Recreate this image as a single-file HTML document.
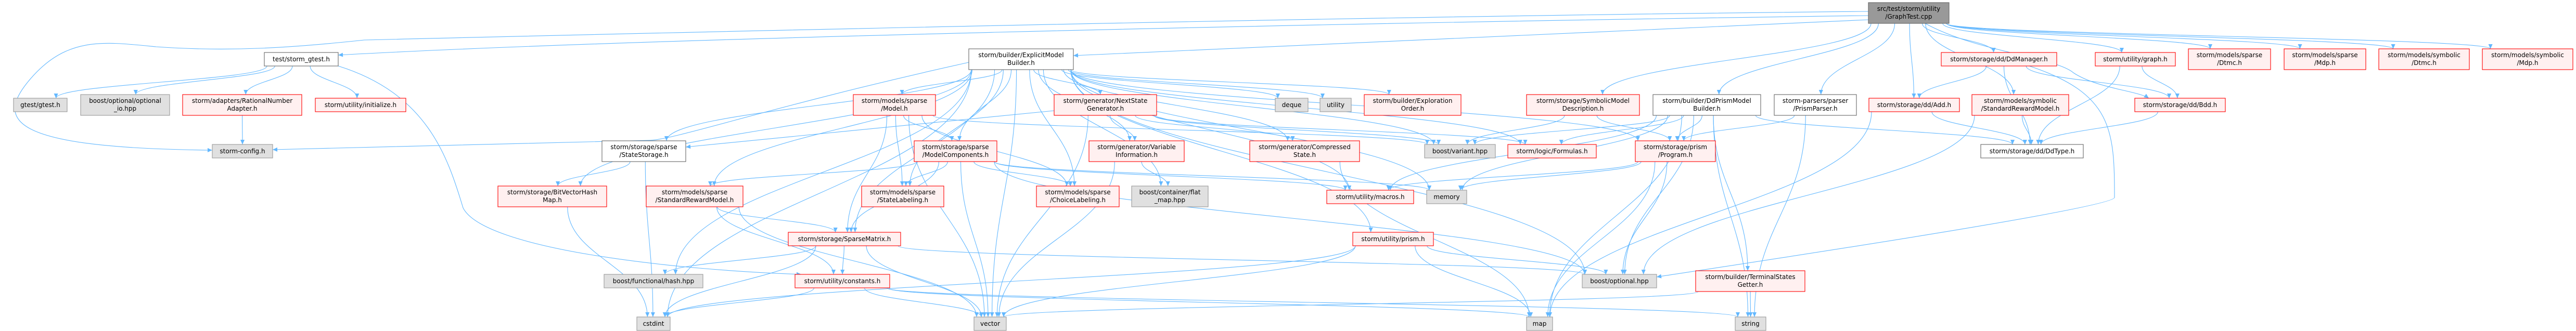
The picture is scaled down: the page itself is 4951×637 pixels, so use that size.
<!DOCTYPE html>
<html><head><meta charset="utf-8"><style>
html,body{margin:0;padding:0;background:#fff;width:4951px;height:637px;overflow:hidden}
svg{display:block}
text{font-family:"DejaVu Sans","Liberation Sans",sans-serif;font-size:12px;fill:#000}
.e{fill:none;stroke:#63b8ff;stroke-width:1.1}
.r{fill:#fff0f0;stroke:#ff0000;stroke-width:1.1}
.g{fill:#e0e0e0;stroke:#999;stroke-width:1.1}
.w{fill:#fff;stroke:#666;stroke-width:1.1}
.d{fill:#999;stroke:#666;stroke-width:1.1}
</style></head><body>
<svg id="s" width="4951" height="637" viewBox="0 0 4951 637" xmlns="http://www.w3.org/2000/svg">
<defs><marker id="a" viewBox="0 0 10 10" refX="10" refY="5" markerWidth="11" markerHeight="9" markerUnits="userSpaceOnUse" orient="auto"><path d="M0,0.5 L10,5 L0,9.5z" fill="#63b8ff"/></marker></defs>
<g id="edges">
<path class="e" marker-end="url(#a)" d="M3591,30 C2500,45 1200,75 650,106"/>
<path class="e" marker-end="url(#a)" d="M3591,22 C2500,32 1000,70 700,77 C560,92 440,100 300,90 C200,80 130,70 60,150 C-10,230 10,285 408,289"/>
<path class="e" marker-end="url(#a)" d="M3591,38 L2063,107"/>
<path class="e" marker-end="url(#a)" d="M2026,213 L1318,283"/>
<path class="e" marker-end="url(#a)" d="M1862,120 C1500,200 1300,268 1250,270 L524,288"/>
<path class="e" marker-end="url(#a)" d="M3900,127 C4060,180 4064,250 4064,380 C4064,400 3400,500 3184,533"/>
<path class="e" marker-end="url(#a)" d="M3700,45 C3800,100 3950,110 3985,140 C4030,170 4110,175 4130,189"/>
<path class="e" marker-end="url(#a)" d="M650,127 C820,180 860,300 890,400 C930,480 1300,520 1540,528"/>
</g>
<g id="nodes">
<rect class="d" x="3591" y="5" width="155" height="40"/><text x="3668.5" y="21" text-anchor="middle">src/test/storm/utility</text><text x="3668.5" y="36" text-anchor="middle">/GraphTest.cpp</text>
<rect class="w" x="508" y="101" width="142" height="26"/><text x="579" y="118" text-anchor="middle">test/storm_gtest.h</text>
<rect class="w" x="1862" y="94" width="201" height="40"/><text x="1962.5" y="110" text-anchor="middle">storm/builder/ExplicitModel</text><text x="1962.5" y="125" text-anchor="middle">Builder.h</text>
<rect class="r" x="3731" y="101" width="222" height="26"/><text x="3842" y="118" text-anchor="middle">storm/storage/dd/DdManager.h</text>
<rect class="r" x="4027" y="101" width="154" height="26"/><text x="4104" y="118" text-anchor="middle">storm/utility/graph.h</text>
<rect class="r" x="4206" y="94" width="158" height="40"/><text x="4285" y="110" text-anchor="middle">storm/models/sparse</text><text x="4285" y="125" text-anchor="middle">/Dtmc.h</text>
<rect class="r" x="4390" y="94" width="157" height="40"/><text x="4468.5" y="110" text-anchor="middle">storm/models/sparse</text><text x="4468.5" y="125" text-anchor="middle">/Mdp.h</text>
<rect class="r" x="4572" y="94" width="174" height="40"/><text x="4659" y="110" text-anchor="middle">storm/models/symbolic</text><text x="4659" y="125" text-anchor="middle">/Dtmc.h</text>
<rect class="r" x="4771" y="94" width="174" height="40"/><text x="4858" y="110" text-anchor="middle">storm/models/symbolic</text><text x="4858" y="125" text-anchor="middle">/Mdp.h</text>
<rect class="g" x="26" y="189" width="103" height="26"/><text x="77.5" y="206" text-anchor="middle">gtest/gtest.h</text>
<rect class="g" x="155" y="182" width="171" height="40"/><text x="240.5" y="198" text-anchor="middle">boost/optional/optional</text><text x="240.5" y="213" text-anchor="middle">_io.hpp</text>
<rect class="r" x="351" y="182" width="229" height="40"/><text x="465.5" y="198" text-anchor="middle">storm/adapters/RationalNumber</text><text x="465.5" y="213" text-anchor="middle">Adapter.h</text>
<rect class="r" x="606" y="189" width="174" height="26"/><text x="693" y="206" text-anchor="middle">storm/utility/initialize.h</text>
<rect class="r" x="1640" y="182" width="158" height="40"/><text x="1719" y="198" text-anchor="middle">storm/models/sparse</text><text x="1719" y="213" text-anchor="middle">/Model.h</text>
<rect class="r" x="2026" y="182" width="197" height="40"/><text x="2124.5" y="198" text-anchor="middle">storm/generator/NextState</text><text x="2124.5" y="213" text-anchor="middle">Generator.h</text>
<rect class="g" x="2451" y="189" width="63" height="26"/><text x="2482.5" y="206" text-anchor="middle">deque</text>
<rect class="g" x="2537" y="189" width="60" height="26"/><text x="2567" y="206" text-anchor="middle">utility</text>
<rect class="r" x="2622" y="182" width="186" height="40"/><text x="2715" y="198" text-anchor="middle">storm/builder/Exploration</text><text x="2715" y="213" text-anchor="middle">Order.h</text>
<rect class="r" x="2934" y="182" width="217" height="40"/><text x="3042.5" y="198" text-anchor="middle">storm/storage/SymbolicModel</text><text x="3042.5" y="213" text-anchor="middle">Description.h</text>
<rect class="w" x="3177" y="182" width="207" height="40"/><text x="3280.5" y="198" text-anchor="middle">storm/builder/DdPrismModel</text><text x="3280.5" y="213" text-anchor="middle">Builder.h</text>
<rect class="w" x="3410" y="182" width="158" height="40"/><text x="3489" y="198" text-anchor="middle">storm-parsers/parser</text><text x="3489" y="213" text-anchor="middle">/PrismParser.h</text>
<rect class="r" x="3592" y="189" width="174" height="26"/><text x="3679" y="206" text-anchor="middle">storm/storage/dd/Add.h</text>
<rect class="r" x="3790" y="182" width="186" height="40"/><text x="3883" y="198" text-anchor="middle">storm/models/symbolic</text><text x="3883" y="213" text-anchor="middle">/StandardRewardModel.h</text>
<rect class="r" x="4103" y="189" width="174" height="26"/><text x="4190" y="206" text-anchor="middle">storm/storage/dd/Bdd.h</text>
<rect class="g" x="408" y="278" width="116" height="26"/><text x="466" y="295" text-anchor="middle">storm-config.h</text>
<rect class="w" x="1157" y="271" width="161" height="40"/><text x="1237.5" y="287" text-anchor="middle">storm/storage/sparse</text><text x="1237.5" y="302" text-anchor="middle">/StateStorage.h</text>
<rect class="r" x="1757" y="271" width="159" height="40"/><text x="1836.5" y="287" text-anchor="middle">storm/storage/sparse</text><text x="1836.5" y="302" text-anchor="middle">/ModelComponents.h</text>
<rect class="r" x="2093" y="271" width="183" height="40"/><text x="2184.5" y="287" text-anchor="middle">storm/generator/Variable</text><text x="2184.5" y="302" text-anchor="middle">Information.h</text>
<rect class="r" x="2402" y="271" width="211" height="40"/><text x="2507.5" y="287" text-anchor="middle">storm/generator/Compressed</text><text x="2507.5" y="302" text-anchor="middle">State.h</text>
<rect class="g" x="2738" y="278" width="136" height="26"/><text x="2806" y="295" text-anchor="middle">boost/variant.hpp</text>
<rect class="r" x="2898" y="278" width="170" height="26"/><text x="2983" y="295" text-anchor="middle">storm/logic/Formulas.h</text>
<rect class="r" x="3143" y="271" width="154" height="40"/><text x="3220" y="287" text-anchor="middle">storm/storage/prism</text><text x="3220" y="302" text-anchor="middle">/Program.h</text>
<rect class="w" x="3807" y="278" width="197" height="26"/><text x="3905.5" y="295" text-anchor="middle">storm/storage/dd/DdType.h</text>
<rect class="r" x="957" y="358" width="209" height="40"/><text x="1061.5" y="374" text-anchor="middle">storm/storage/BitVectorHash</text><text x="1061.5" y="389" text-anchor="middle">Map.h</text>
<rect class="r" x="1242" y="358" width="186" height="40"/><text x="1335" y="374" text-anchor="middle">storm/models/sparse</text><text x="1335" y="389" text-anchor="middle">/StandardRewardModel.h</text>
<rect class="r" x="1656" y="358" width="158" height="40"/><text x="1735" y="374" text-anchor="middle">storm/models/sparse</text><text x="1735" y="389" text-anchor="middle">/StateLabeling.h</text>
<rect class="r" x="1992" y="358" width="159" height="40"/><text x="2071.5" y="374" text-anchor="middle">storm/models/sparse</text><text x="2071.5" y="389" text-anchor="middle">/ChoiceLabeling.h</text>
<rect class="g" x="2175" y="358" width="147" height="40"/><text x="2248.5" y="374" text-anchor="middle">boost/container/flat</text><text x="2248.5" y="389" text-anchor="middle">_map.hpp</text>
<rect class="r" x="2550" y="366" width="167" height="26"/><text x="2633.5" y="383" text-anchor="middle">storm/utility/macros.h</text>
<rect class="g" x="2742" y="366" width="77" height="26"/><text x="2780.5" y="383" text-anchor="middle">memory</text>
<rect class="r" x="1515" y="447" width="216" height="26"/><text x="1623" y="464" text-anchor="middle">storm/storage/SparseMatrix.h</text>
<rect class="r" x="2600" y="447" width="155" height="26"/><text x="2677.5" y="464" text-anchor="middle">storm/utility/prism.h</text>
<rect class="g" x="1161" y="528" width="190" height="26"/><text x="1256" y="545" text-anchor="middle">boost/functional/hash.hpp</text>
<rect class="r" x="1528" y="528" width="182" height="26"/><text x="1619" y="545" text-anchor="middle">storm/utility/constants.h</text>
<rect class="g" x="3041" y="528" width="143" height="26"/><text x="3112.5" y="545" text-anchor="middle">boost/optional.hpp</text>
<rect class="r" x="3259" y="521" width="210" height="40"/><text x="3364" y="537" text-anchor="middle">storm/builder/TerminalStates</text><text x="3364" y="552" text-anchor="middle">Getter.h</text>
<rect class="g" x="1224" y="610" width="64" height="26"/><text x="1256" y="627" text-anchor="middle">cstdint</text>
<rect class="g" x="1872" y="610" width="62" height="26"/><text x="1903" y="627" text-anchor="middle">vector</text>
<rect class="g" x="2934" y="610" width="50" height="26"/><text x="2959" y="627" text-anchor="middle">map</text>
<rect class="g" x="3335" y="610" width="59" height="26"/><text x="3364.5" y="627" text-anchor="middle">string</text>
</g>
</svg>
<script>
(function(){
var N={
1:[3591,5,155,40],2:[508,101,142,26],3:[1862,94,201,40],4:[3731,101,222,26],5:[4027,101,154,26],
6:[4206,94,158,40],7:[4390,94,157,40],8:[4572,94,174,40],9:[4771,94,174,40],10:[26,189,103,26],
11:[155,182,171,40],12:[351,182,229,40],13:[606,189,174,26],14:[1640,182,158,40],15:[2026,182,197,40],
16:[2451,189,63,26],17:[2537,189,60,26],18:[2622,182,186,40],19:[2934,182,217,40],20:[3177,182,207,40],
21:[3410,182,158,40],22:[3592,189,174,26],23:[3790,182,186,40],24:[4103,189,174,26],25:[408,278,116,26],
26:[1157,271,161,40],27:[1757,271,159,40],28:[2093,271,183,40],29:[2402,271,211,40],30:[2738,278,136,26],
31:[2898,278,170,26],32:[3143,271,154,40],33:[3807,278,197,26],34:[957,358,209,40],35:[1242,358,186,40],
36:[1656,358,158,40],37:[1992,358,159,40],38:[2175,358,147,40],39:[2550,366,167,26],40:[2742,366,77,26],
41:[1515,447,216,26],42:[2600,447,155,26],43:[1161,528,190,26],44:[1528,528,182,26],45:[3041,528,143,26],
46:[3259,521,210,40],47:[1224,610,64,26],48:[1872,610,62,26],49:[2934,610,50,26],50:[3335,610,59,26]};
var E=[[1,19],[1,20],[1,21],[1,22],[1,23],[1,4],[1,5],[1,6],[1,7],[1,8],[1,9],
[3,14],[3,15],[3,16],[3,17],[3,18],[3,26],[3,27],[3,28],[3,29],[3,30],[3,31],[3,32],[3,34],[3,35],[3,36],[3,37],[3,38],[3,39],[3,40],[3,41],[3,42],[3,43],[3,45],[3,47],[3,48],
[2,10],[2,11],[2,12],[2,13],[12,25],
[14,27],[14,36],[14,37],[14,41],[14,48],[14,30],
[15,28],[15,29],[15,48],[15,30],[15,31],
[27,35],[27,36],[27,37],[27,41],[27,48],[27,45],[27,40],[27,39],
[26,34],[26,47],[34,47],[35,41],[35,44],[35,48],
[41,43],[41,44],[41,47],[41,48],[41,45],
[44,47],[44,48],[44,49],[44,50],[28,38],[28,48],[29,49],
[42,45],[42,49],[42,48],[42,47],[32,45],[32,49],[32,40],[32,39],
[19,30],[19,32],[20,30],[20,31],[20,32],[20,40],[20,45],[20,46],[20,49],[20,50],[20,33],[20,39],
[21,32],[21,50],[22,33],[22,49],[23,33],[23,45],[4,22],[4,24],[4,33],[5,24],[5,33],[24,33],[46,50],[46,48]];
function cl(v,a,b){return Math.max(a,Math.min(b,v));}
var g=document.getElementById('edges'),h='';
E.forEach(function(e){
var s=N[e[0]],t=N[e[1]];
var scx=s[0]+s[2]/2,tcx=t[0]+t[2]/2,sy=s[1]+s[3],ty=t[1];
var sx=scx+cl((tcx-scx)*0.15,-s[2]/2+5,s[2]/2-5);
var tx=tcx+cl((scx-tcx)*0.06,-t[2]/2+5,t[2]/2-5);
var dy=ty-sy;
h+='<path class="e" marker-end="url(#a)" d="M'+sx.toFixed(1)+','+sy+' C'+sx.toFixed(1)+','+(sy+dy*0.45).toFixed(1)+' '+tx.toFixed(1)+','+(ty-dy*0.45).toFixed(1)+' '+tx.toFixed(1)+','+ty+'"/>';
});
g.insertAdjacentHTML('beforeend',h);
})();
</script>
</body></html>
